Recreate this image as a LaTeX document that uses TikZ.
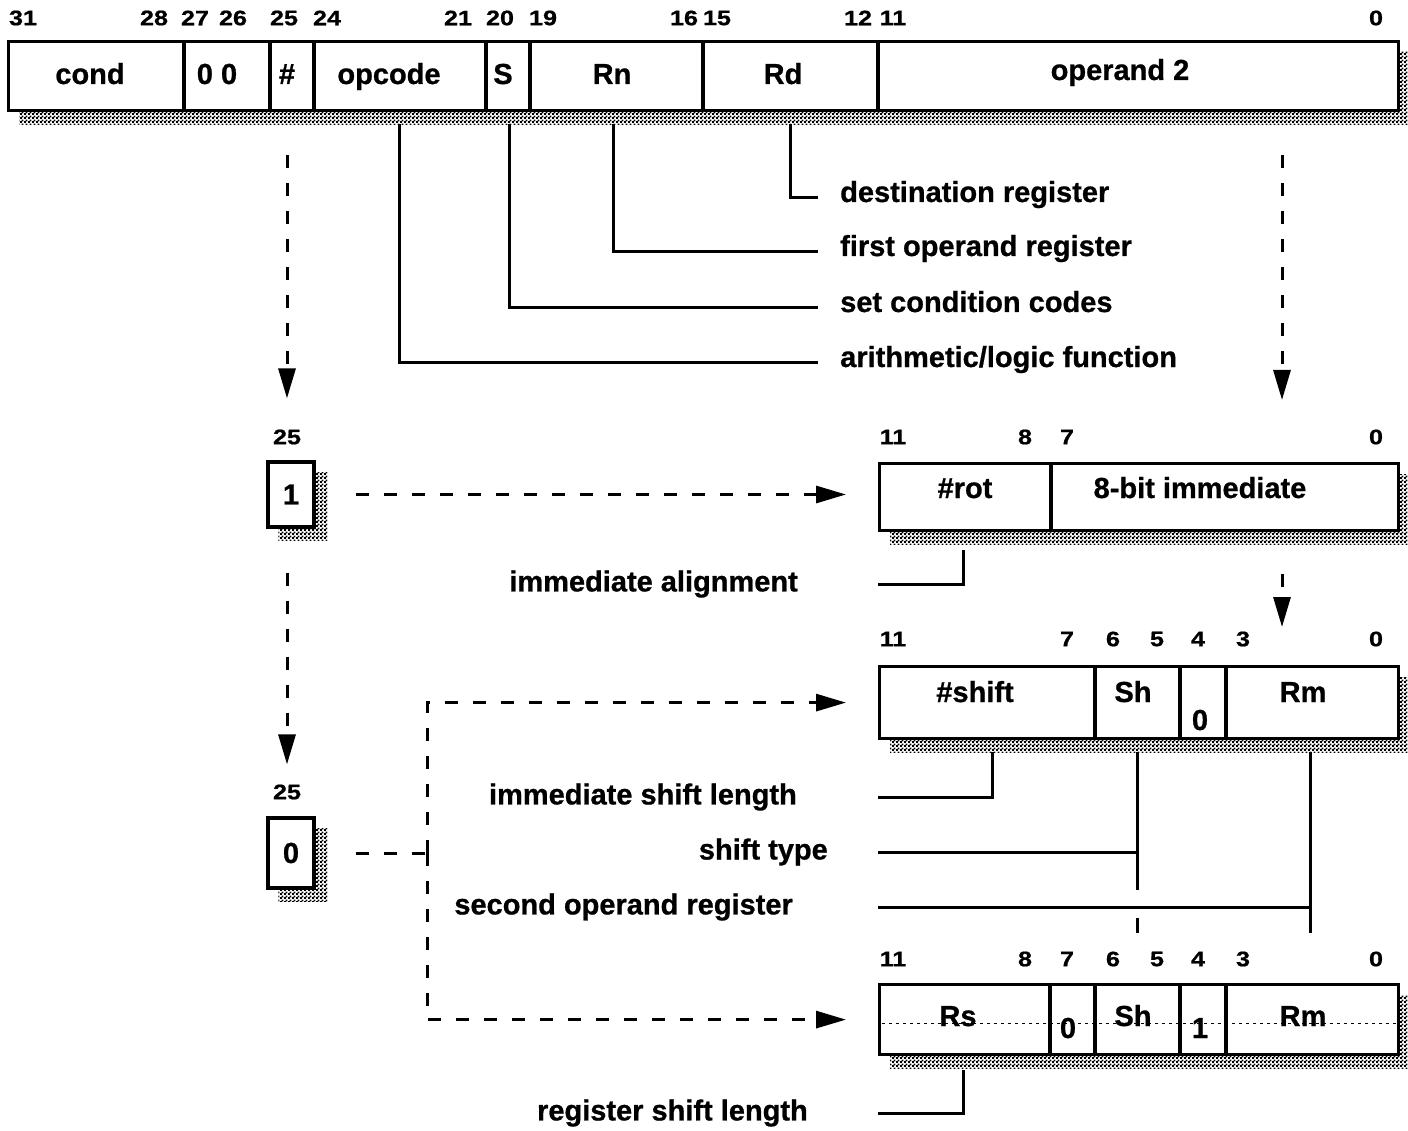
\documentclass[tikz,border=0pt]{standalone}
\usepackage{fontspec}
\setmainfont[BoldFeatures={FakeBold=0.8}]{Liberation Sans}
\newfontfamily\bitfont[FakeStretch=1.2,BoldFeatures={FakeBold=0.8}]{Liberation Sans}
\usepackage{tikz}
\usetikzlibrary{arrows.meta}
\usetikzlibrary{patterns}
\usetikzlibrary{calc}
\usetikzlibrary{backgrounds}

\pgfdeclarepatternformonly{shadowdots}{\pgfqpoint{0pt}{0pt}}{\pgfqpoint{4pt}{4pt}}{\pgfqpoint{4pt}{4pt}}{%
  \pgfpathrectangle{\pgfqpoint{0pt}{0pt}}{\pgfqpoint{2.2pt}{2.2pt}}%
  \pgfpathrectangle{\pgfqpoint{2pt}{2pt}}{\pgfqpoint{2.2pt}{2.2pt}}%
  \pgfusepath{fill}}

\begin{document}
\begin{tikzpicture}[x=1pt, y=-1pt, >={Triangle[length=30pt,width=17pt]},
    every node/.style={font=\fontsize{29}{34}\selectfont\bfseries, inner sep=0pt},
    bits/.style={font=\bitfont\bfseries\fontsize{21}{24}\selectfont},
    fmt/.style={draw, fill=white, line width=3.2pt, anchor=north west},
    flag/.style={draw, fill=white, line width=3.2pt, minimum width=46pt},
    rule/.style={line width=3.2pt},
    lead/.style={line width=3pt},
    flow/.style={->, line width=3pt, dash pattern=on 13pt off 15pt},
    dashline/.style={line width=3pt, dash pattern=on 13pt off 15pt}]
  \useasboundingbox (0,0) rectangle (1408,1131);
  % whole instruction word, bit 31 at the left
  \node[fmt, minimum width=1390pt, minimum height=69pt] (instr) at (7,40) {};
  \foreach \x in {184,270,314,486,530,703,878}
    \draw[rule] (\x,40) -- (\x,109);
  \foreach \x/\n in {23/31,154/28,195/27,233/26,284/25,327/24,458/21,500/20,543/19,684/16,717/15,858/12,893/11,1376/0}
    \node[bits] (w\n) at (\x,18) {\n};
  \node[anchor=base] (cond) at (90,84) {cond};
  \node[anchor=base] (zz) at (217,84) {0 0};
  \node[anchor=base] (hash) at (287,84) {\#};
  \node[anchor=base] (opc) at (389,84) {opcode};
  \node[anchor=base] (sbit) at (503,84) {S};
  \node[anchor=base] (rn) at (612,84) {Rn};
  \node[anchor=base] (rd) at (783,84) {Rd};
  \node[anchor=base] (optwo) at (1120,80) {operand 2};

  \node[anchor=base west] (dest) at (840,202) {destination register};
  \node[anchor=base west] (firstop) at (840,256) {first operand register};
  \node[anchor=base west] (setcc) at (840,312) {set condition codes};
  \node[anchor=base west] (alu) at (840,367) {arithmetic/logic function};
  \draw[lead] ($(rd |- instr.south)+(7,12)$) |- ($(dest.base west)+(-22,-4)$);
  \draw[lead] ($(rn |- instr.south)+(1,12)$) |- ($(firstop.base west)+(-22,-4)$);
  \draw[lead] ($(sbit |- instr.south)+(6,12)$) |- ($(setcc.base west)+(-22,-4)$);
  \draw[lead] ($(opc |- instr.south)+(10,12)$) |- ($(alu.base west)+(-22,-4)$);

  % the # bit
  \node[bits] (onebit) at (287,437) {25};
  \node[flag, minimum height=65pt] (one) at (291,494.5) {1};
  \node[bits] (zerobit) at (287,792) {25};
  \node[flag, minimum height=70pt] (zero) at (291,853) {0};

  % immediate operand 2
  \node[fmt, minimum width=519pt, minimum height=67pt] (immrow) at (878,462) {};
  \draw[rule] (1051,462) -- (1051,529);
  \foreach \x/\n in {893/11,1025/8,1067/7,1376/0}
    \node[bits] (i\n) at (\x,437) {\n};
  \node[anchor=base] (rot) at (965,498) {\#rot};
  \node[anchor=base] (imm) at (1200,498) {8-bit immediate};
  \node[anchor=east] (immalign) at (798,584) {immediate alignment};
  \draw[lead] ($(rot |- immrow.south)+(-2,18)$) |- (immalign -| immrow.west);

  % register operand 2, shifted by a constant
  \node[fmt, minimum width=519pt, minimum height=72pt] (shiftrow) at (878,665) {};
  \foreach \x in {1095,1180,1226}
    \draw[rule] (\x,665) -- (\x,737);
  \foreach \x/\n in {893/11,1067/7,1113/6,1157/5,1198/4,1243/3,1376/0}
    \node[bits] (s\n) at (\x,639) {\n};
  \node[anchor=base] (shamt) at (975,702) {\#shift};
  \node[anchor=base] (sh) at (1133,702) {Sh};
  \node[anchor=base] (szero) at (1200,730) {0};
  \node[anchor=base] (rm) at (1303,702) {Rm};
  \node[anchor=east] (immshift) at (797,797) {immediate shift length};
  \node[anchor=east] (shtype) at (828,852) {shift type};
  \node[anchor=east] (secop) at (793,907) {second operand register};
  \draw[lead] ($(shamt |- shiftrow.south)+(17,12)$) |- (immshift -| shiftrow.west);
  \draw[lead] ($(sh |- shiftrow.south)+(4,12)$) -- ($(sh |- shtype)+(4,38)$);
  \draw[lead] ($(sh |- secop)+(4,11)$) -- ($(sh |- secop)+(4,26)$);
  \draw[lead] (shtype -| shiftrow.west) -- ($(sh |- shtype)+(4,0)$);
  \draw[lead] ($(rm |- shiftrow.south)+(7,12)$) -- ($(rm |- secop)+(7,26)$);
  \draw[lead] (secop -| shiftrow.west) -- ($(rm |- secop)+(7,0)$);

  % register operand 2, shifted by a register
  \node[fmt, minimum width=519pt, minimum height=70pt] (regrow) at (878,983) {};
  \foreach \x in {1050,1095,1180,1226}
    \draw[rule] (\x,983) -- (\x,1053);
  \foreach \x/\n in {893/11,1025/8,1067/7,1113/6,1157/5,1198/4,1243/3,1376/0}
    \node[bits] (r\n) at (\x,959) {\n};
  \draw[line width=1pt, dash pattern=on 3pt off 4pt] ($(regrow.west)+(4,4)$) -- ($(regrow.east)+(-2,4)$);
  \node[anchor=base] (rs) at (958,1026) {Rs};
  \node[anchor=base] (rzero) at (1068,1038) {0};
  \node[anchor=base] (rsh) at (1133,1026) {Sh};
  \node[anchor=base] (rone) at (1200,1038) {1};
  \node[anchor=base] (rrm) at (1303,1026) {Rm};
  \node[anchor=east] (regshift) at (808,1113) {register shift length};
  \draw[lead] ($(rs |- regrow.south)+(5,14)$) |- (regshift -| regrow.west);

  % dashed flow
  \coordinate (ltap) at (287,155);
  \coordinate (rtap) at (1282,155);
  \coordinate (split) at (427,853);
  \draw[flow, shorten >=62pt] (ltap) -- (ltap |- one.north);
  \draw[flow, shorten >=62pt] (rtap) -- (rtap |- immrow.north);
  \draw[flow, shorten <=42pt, shorten >=38pt] (rtap |- immrow.south) -- (rtap |- shiftrow.north);
  \draw[flow, shorten <=44pt, shorten >=52pt] (ltap |- one.south) -- (ltap |- zero.north);
  \draw[flow, shorten <=40pt, shorten >=32pt] (one.east) -- (one.east -| immrow.west);
  \draw[dashline, shorten <=40pt] (zero.east) -- (split);
  \draw[flow, shorten >=32pt] (split) |- (shiftrow.west);
  \draw[flow, shorten >=32pt] (split) |- (regrow.west);

  \begin{scope}[on background layer]
    \foreach \b in {instr,immrow,shiftrow,regrow,one,zero}
      \fill[pattern=shadowdots] ($(\b.north west)+(12,12)$) rectangle ($(\b.south east)+(12,12)$);
  \end{scope}
\end{tikzpicture}
\end{document}
